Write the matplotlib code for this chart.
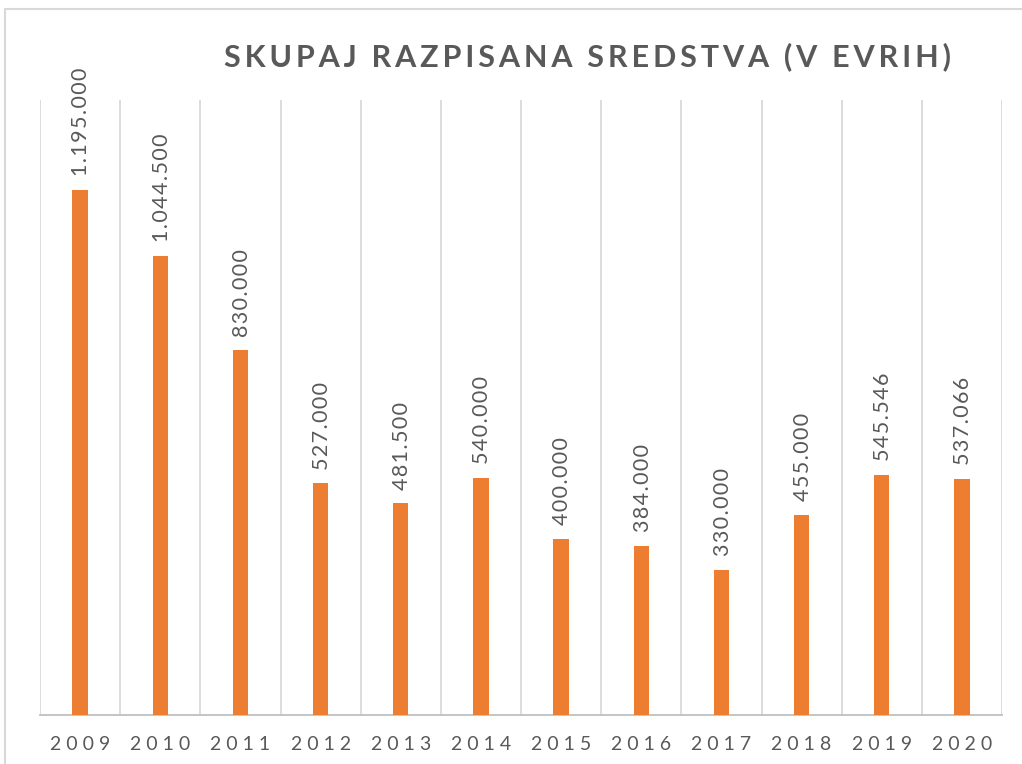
import numpy as np
import matplotlib.pyplot as plt
from matplotlib.patches import Rectangle

# data
years = ["2009", "2010", "2011", "2012", "2013", "2014",
         "2015", "2016", "2017", "2018", "2019", "2020"]
amounts = [1195000, 1044500, 830000, 527000, 481500, 540000,
           400000, 384000, 330000, 455000, 545546, 537066]
title = "SKUPAJ RAZPISANA SREDSTVA (V EVRIH)"

bar_color = "#ED7D31"
text_color = "#595959"
grid_color = "#D9D9D9"

plt.rcParams['font.family'] = ['Lato', 'DejaVu Sans']


def spaced(s, sep="\u2009"):
    # fake letter spacing like the office chart
    return sep.join(s).replace(sep + " " + sep, "  ")


fig = plt.figure(figsize=(10.22, 7.64), dpi=100)
ax = fig.add_axes([40/1022, 1-715/764, 962/1022, 615/764])

x = np.arange(len(years))
ax.bar(x, amounts, width=0.19, color=bar_color, zorder=3)

def fmt(v):
    return f"{v:,}".replace(",", ".")

for xi, v in zip(x, amounts):
    ax.annotate(spaced(fmt(v), "\u200a"), (xi, v), xytext=(1, 10),
                textcoords="offset points", rotation=90, ha="center",
                va="bottom", fontsize=15.5, color=text_color)

ax.set_xlim(-0.5, len(years) - 0.5)
ax.set_ylim(0, 1400000)
ax.set_xticks(x)
ax.set_xticklabels([spaced(y, " ") for y in years], fontsize=14, color=text_color)
ax.set_xticks(np.arange(-0.5, len(years), 1), minor=True)
ax.tick_params(axis="x", which="both", length=0, pad=15)
ax.set_yticks([])
ax.grid(axis="x", which="minor", color=grid_color, linewidth=1.3, zorder=0)
for s in ["top", "right", "left"]:
    ax.spines[s].set_visible(False)
ax.spines["bottom"].set_color("#BFBFBF")
ax.spines["bottom"].set_linewidth(1.3)

fig.text(588/1022, 1-57/764, spaced(title), ha="center", va="center",
         fontsize=22, fontweight="bold", color=text_color)

# chart frame
fig.patches.append(Rectangle((5/1022, -0.05), 1.1, 1-9/764 + 0.05,
                             transform=fig.transFigure, fill=False,
                             edgecolor=grid_color, linewidth=1.5))

fig.savefig("out.png", dpi=100)
